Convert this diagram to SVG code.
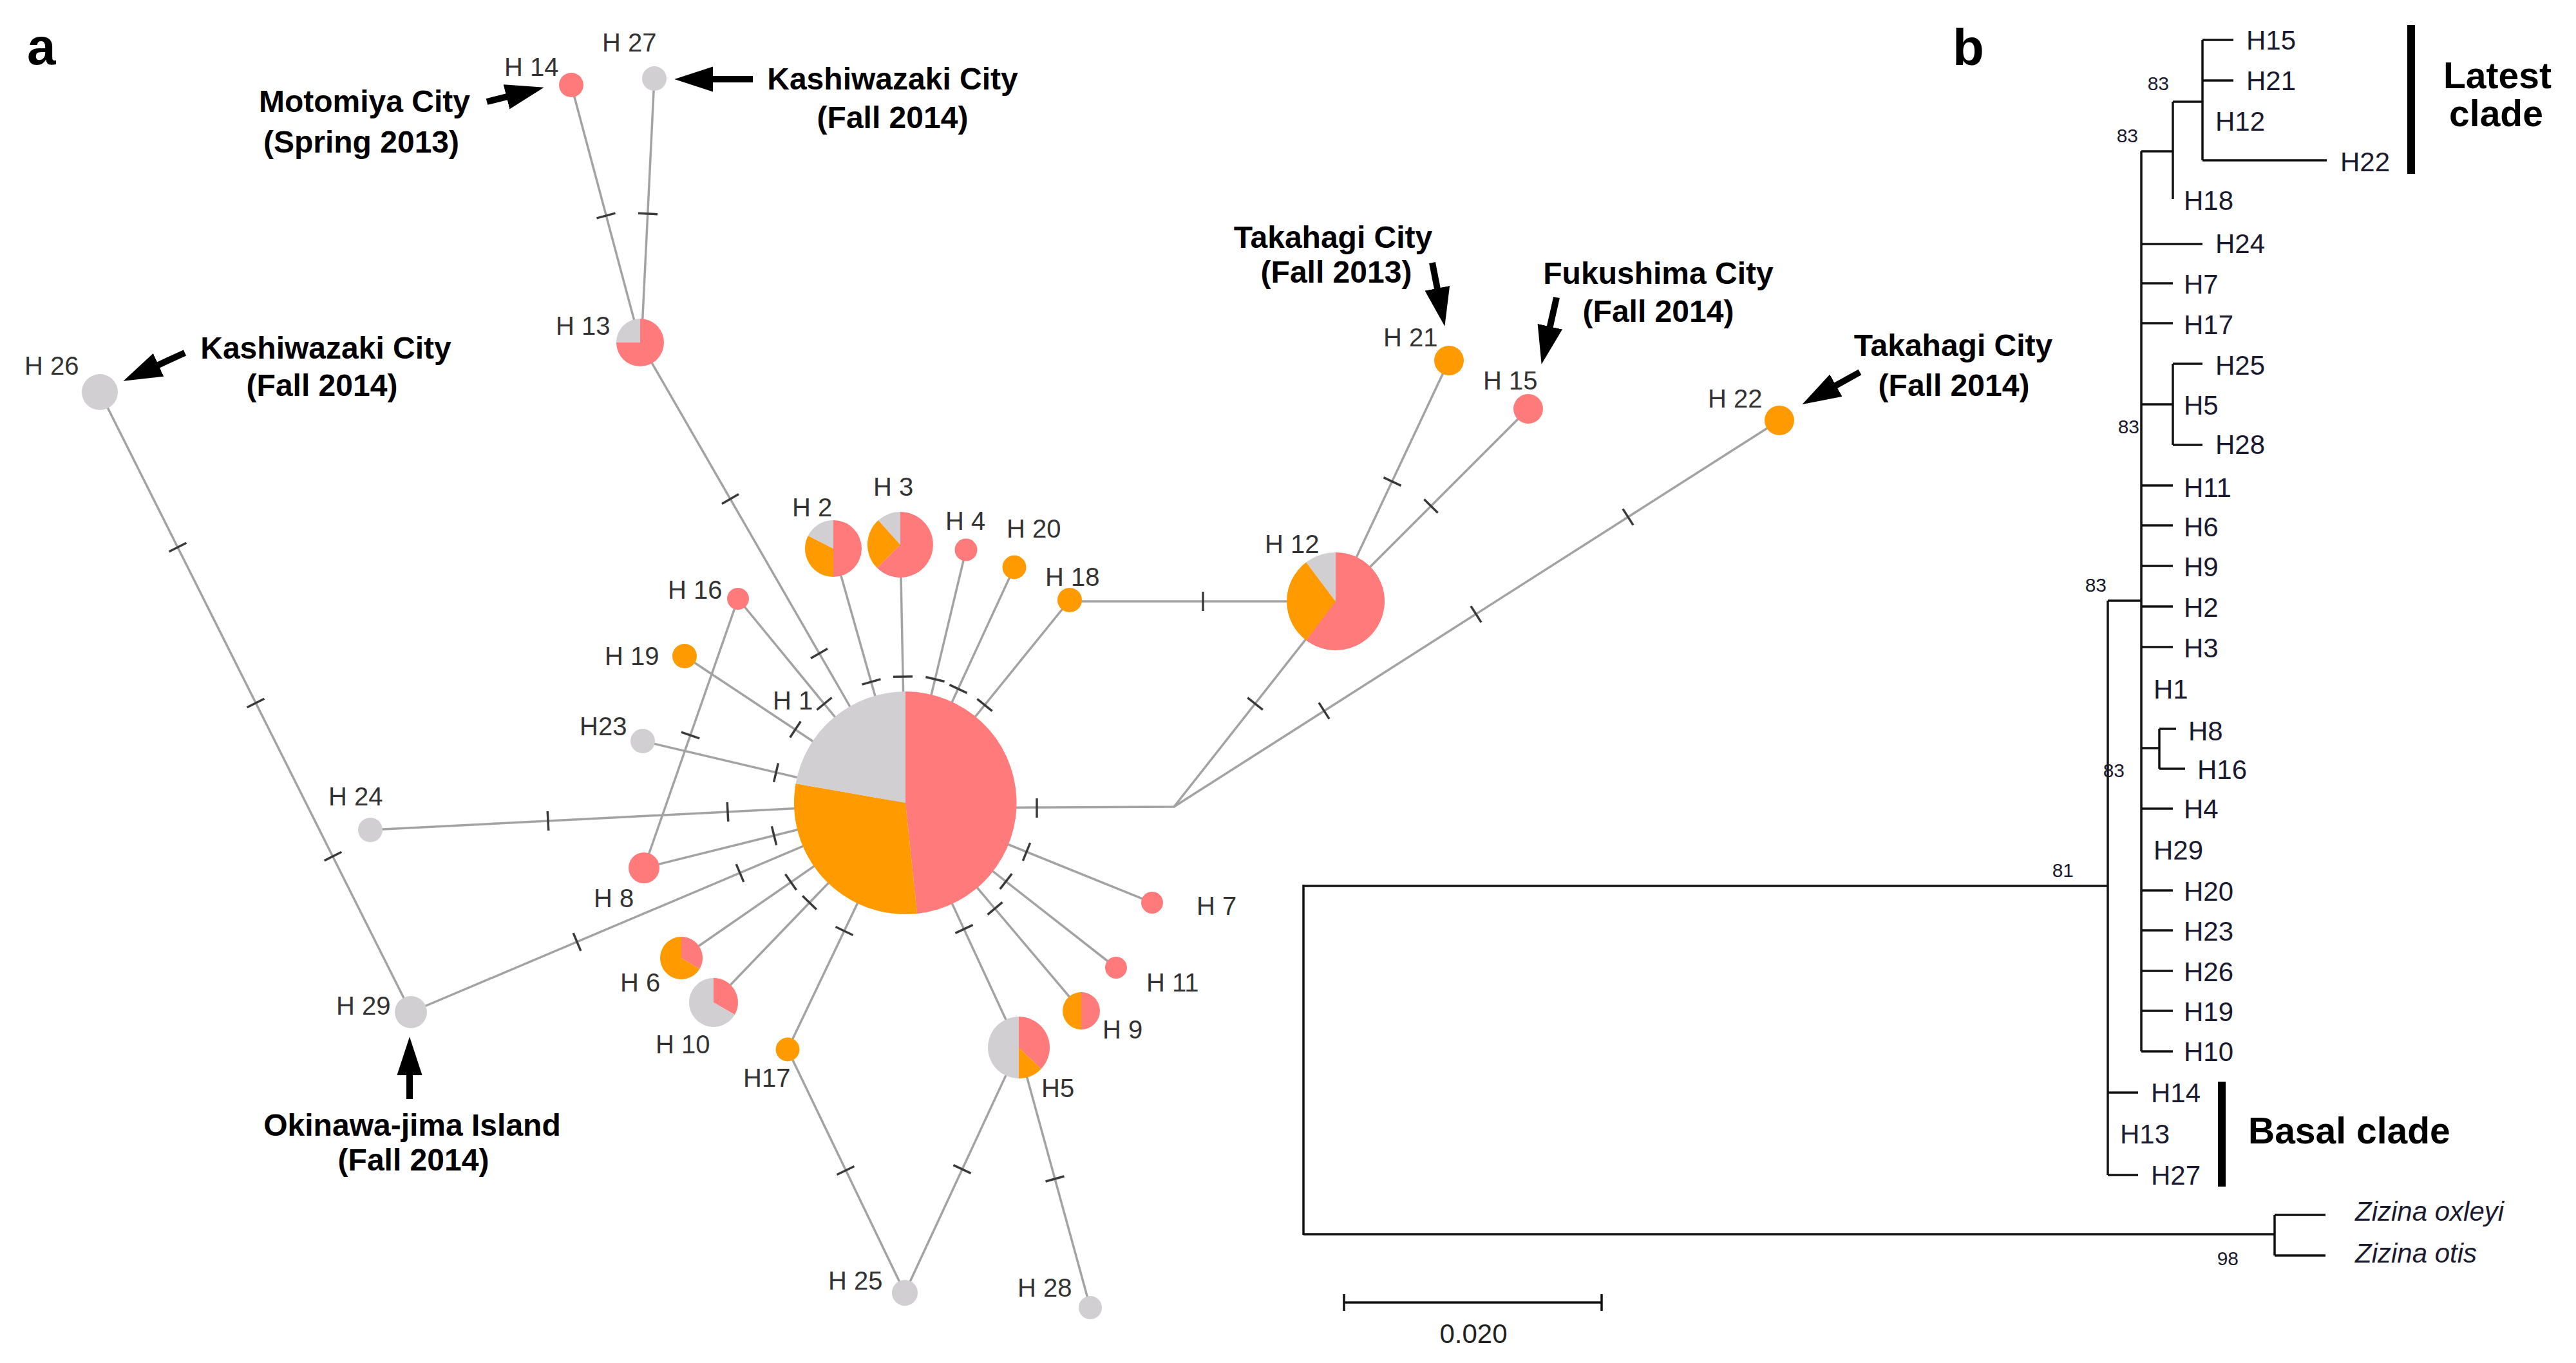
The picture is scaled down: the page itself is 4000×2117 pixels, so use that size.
<svg xmlns="http://www.w3.org/2000/svg" xmlns:xlink="http://www.w3.org/1999/xlink" width="4000" height="2117" viewBox="0 0 4000 2117">
<style>
.e{stroke:#a3a3a3;stroke-width:3.5;fill:none}
.tk{stroke:#3a3a3a;stroke-width:3.5}
.r{fill:#ff7a7a}.o{fill:#ff9a00}.g{fill:#d1cfd1}
.lb{font-family:"Liberation Sans",Arial,sans-serif;font-size:40px;fill:#333}
.co{font-family:"Liberation Sans",Arial,sans-serif;font-size:48px;font-weight:bold;fill:#000;text-anchor:middle}
.ar{stroke:#000;stroke-width:10;fill:none;marker-end:url(#ah)}
.pl{font-family:"Liberation Sans",Arial,sans-serif;font-size:80px;font-weight:bold;fill:#000}
.br{stroke:#111;stroke-width:3.5;fill:none}
.tl{font-family:"Liberation Sans",Arial,sans-serif;font-size:42px;fill:#1a1a30}
.bs{font-family:"Liberation Sans",Arial,sans-serif;font-size:30px;fill:#1a1a30}
.cl{font-family:"Liberation Sans",Arial,sans-serif;font-size:57px;font-weight:bold;fill:#000}
</style>
<defs>
<line id="tk" class="tk" x1="0" y1="-15" x2="0" y2="15"/>
<marker id="ah" markerUnits="userSpaceOnUse" markerWidth="60" markerHeight="40" viewBox="0 0 58 38" refX="8" refY="19" orient="auto">
<path d="M0,0 L58,19 L0,38 Z" fill="#000"/>
</marker>
</defs>
<rect width="4000" height="2117" fill="#fff"/>
<text class="pl" x="42" y="100">a</text>
<text class="pl" x="3032" y="101">b</text>

<g id="connectors">
<line class="e" x1="887" y1="132" x2="994" y2="532"/>
<line class="e" x1="1016" y1="122" x2="996" y2="532"/>
<line class="e" x1="994" y1="532" x2="1406" y2="1247"/>
<line class="e" x1="155" y1="609" x2="638" y2="1572"/>
<line class="e" x1="575" y1="1289" x2="1406" y2="1247"/>
<line class="e" x1="638" y1="1572" x2="1406" y2="1247"/>
<line class="e" x1="1000" y1="1348" x2="1406" y2="1247"/>
<line class="e" x1="1146" y1="930" x2="1406" y2="1247"/>
<line class="e" x1="1146" y1="930" x2="1000" y2="1348"/>
<line class="e" x1="1063" y1="1019" x2="1406" y2="1247"/>
<line class="e" x1="998" y1="1151" x2="1406" y2="1247"/>
<line class="e" x1="1294" y1="852" x2="1406" y2="1247"/>
<line class="e" x1="1398" y1="846" x2="1406" y2="1247"/>
<line class="e" x1="1500" y1="854" x2="1406" y2="1247"/>
<line class="e" x1="1575" y1="881" x2="1406" y2="1247"/>
<line class="e" x1="1661" y1="932" x2="1406" y2="1247"/>
<line class="e" x1="1661" y1="934" x2="2074" y2="934"/>
<line class="e" x1="1058" y1="1488" x2="1406" y2="1247"/>
<line class="e" x1="1108" y1="1557" x2="1406" y2="1247"/>
<line class="e" x1="1223" y1="1630" x2="1406" y2="1247"/>
<line class="e" x1="1582" y1="1627" x2="1406" y2="1247"/>
<line class="e" x1="1679" y1="1570" x2="1406" y2="1247"/>
<line class="e" x1="1733" y1="1503" x2="1406" y2="1247"/>
<line class="e" x1="1789" y1="1402" x2="1406" y2="1247"/>
<polyline class="e" points="1406,1255 1823,1253 2074,934"/>
<line class="e" x1="1823" y1="1253" x2="2763" y2="653"/>
<line class="e" x1="2074" y1="934" x2="2250" y2="560"/>
<line class="e" x1="2074" y1="934" x2="2373" y2="635"/>
<line class="e" x1="1223" y1="1630" x2="1405" y2="2008"/>
<line class="e" x1="1582" y1="1627" x2="1405" y2="2008"/>
<line class="e" x1="1582" y1="1627" x2="1693" y2="2031"/>
<use href="#tk" transform="translate(941,335) rotate(75)"/>
<use href="#tk" transform="translate(1006,332) rotate(92.8)"/>
<use href="#tk" transform="translate(1134,775) rotate(60)"/>
<use href="#tk" transform="translate(1272,1015) rotate(60)"/>
<use href="#tk" transform="translate(276,850) rotate(63.4)"/>
<use href="#tk" transform="translate(397,1092) rotate(63.4)"/>
<use href="#tk" transform="translate(517,1330) rotate(63.4)"/>
<use href="#tk" transform="translate(851,1275) rotate(-2.9)"/>
<use href="#tk" transform="translate(1130,1261) rotate(-2.9)"/>
<use href="#tk" transform="translate(896,1463) rotate(-22.9)"/>
<use href="#tk" transform="translate(1149,1356) rotate(-22.9)"/>
<use href="#tk" transform="translate(1202,1298) rotate(-14)"/>
<use href="#tk" transform="translate(1280,1093) rotate(50.6)"/>
<use href="#tk" transform="translate(1072,1142) rotate(109.3)"/>
<use href="#tk" transform="translate(1235,1133) rotate(33.6)"/>
<use href="#tk" transform="translate(1205,1200) rotate(13.2)"/>
<use href="#tk" transform="translate(1353,1059) rotate(74.2)"/>
<use href="#tk" transform="translate(1402,1051) rotate(88.9)"/>
<use href="#tk" transform="translate(1452,1055) rotate(103.5)"/>
<use href="#tk" transform="translate(1488,1070) rotate(114.8)"/>
<use href="#tk" transform="translate(1529,1095) rotate(129)"/>
<use href="#tk" transform="translate(1868,934)"/>
<use href="#tk" transform="translate(1228,1370) rotate(-34.7)"/>
<use href="#tk" transform="translate(1257,1402) rotate(-46.1)"/>
<use href="#tk" transform="translate(1311,1446) rotate(-64.5)"/>
<use href="#tk" transform="translate(1497,1443) rotate(65.2)"/>
<use href="#tk" transform="translate(1545,1411) rotate(49.8)"/>
<use href="#tk" transform="translate(1562,1369) rotate(38.1)"/>
<use href="#tk" transform="translate(1594,1323) rotate(22)"/>
<use href="#tk" transform="translate(1610,1255)"/>
<use href="#tk" transform="translate(1949,1093) rotate(-51.8)"/>
<use href="#tk" transform="translate(2056,1104) rotate(-32.5)"/>
<use href="#tk" transform="translate(2292,954) rotate(-32.5)"/>
<use href="#tk" transform="translate(2528,803) rotate(-32.5)"/>
<use href="#tk" transform="translate(2162,748) rotate(-64.8)"/>
<use href="#tk" transform="translate(2222,786) rotate(-45)"/>
<use href="#tk" transform="translate(1313,1818) rotate(64.3)"/>
<use href="#tk" transform="translate(1494,1816) rotate(114.9)"/>
<use href="#tk" transform="translate(1638,1831) rotate(74.6)"/>
</g>

<g id="H1"><path class="r" d="M1406,1247 L1406,1074 A173,173 0 0 1 1424.1,1419 Z"/><path class="o" d="M1406,1247 L1424.1,1419 A173,173 0 0 1 1235.6,1217 Z"/><path class="g" d="M1406,1247 L1235.6,1217 A173,173 0 0 1 1406,1074 Z"/><text class="lb" x="1200" y="1102">H 1</text></g>
<g id="H2"><path class="r" d="M1294,852 L1294,808 A44,44 0 0 1 1294,896 Z"/><path class="o" d="M1294,852 L1294,896 A44,44 0 0 1 1254.8,832 Z"/><path class="g" d="M1294,852 L1254.8,832 A44,44 0 0 1 1294,808 Z"/><text class="lb" x="1230" y="802">H 2</text></g>
<g id="H3"><path class="r" d="M1398,846 L1398,795 A51,51 0 1 1 1361.9,882.1 Z"/><path class="o" d="M1398,846 L1361.9,882.1 A51,51 0 0 1 1363.9,808.1 Z"/><path class="g" d="M1398,846 L1363.9,808.1 A51,51 0 0 1 1398,795 Z"/><text class="lb" x="1356" y="770">H 3</text></g>
<g id="H4"><circle class="r" cx="1500" cy="854" r="17.5"/><text class="lb" x="1468" y="823">H 4</text></g>
<g id="H5"><path class="r" d="M1582,1627 L1582,1579 A48,48 0 0 1 1616.5,1660.4 Z"/><path class="o" d="M1582,1627 L1616.5,1660.4 A48,48 0 0 1 1582,1675 Z"/><path class="g" d="M1582,1627 L1582,1675 A48,48 0 0 1 1582,1579 Z"/><text class="lb" x="1617" y="1704">H5</text></g>
<g id="H6"><path class="r" d="M1058,1488 L1058,1455 A33,33 0 0 1 1086.3,1505 Z"/><path class="o" d="M1058,1488 L1086.3,1505 A33,33 0 1 1 1058,1455 Z"/><text class="lb" x="963" y="1540">H 6</text></g>
<g id="H7"><circle class="r" cx="1789" cy="1402" r="17"/><text class="lb" x="1858" y="1421">H 7</text></g>
<g id="H8"><circle class="r" cx="1000" cy="1348" r="24"/><text class="lb" x="922" y="1409">H 8</text></g>
<g id="H9"><path class="r" d="M1679,1570 L1679,1541 A29,29 0 0 1 1679,1599 Z"/><path class="o" d="M1679,1570 L1679,1599 A29,29 0 0 1 1679,1541 Z"/><text class="lb" x="1712" y="1613">H 9</text></g>
<g id="H10"><path class="r" d="M1108,1557 L1108,1519 A38,38 0 0 1 1140.9,1576 Z"/><path class="g" d="M1108,1557 L1140.9,1576 A38,38 0 1 1 1108,1519 Z"/><text class="lb" x="1018" y="1636">H 10</text></g>
<g id="H11"><circle class="r" cx="1733" cy="1503" r="17"/><text class="lb" x="1780" y="1540">H 11</text></g>
<g id="H12"><path class="r" d="M2074,934 L2074,858 A76,76 0 1 1 2028.3,994.7 Z"/><path class="o" d="M2074,934 L2028.3,994.7 A76,76 0 0 1 2028.3,873.3 Z"/><path class="g" d="M2074,934 L2028.3,873.3 A76,76 0 0 1 2074,858 Z"/><text class="lb" x="1964" y="859">H 12</text></g>
<g id="H13"><path class="r" d="M994,532 L994,495 A37,37 0 1 1 957,532 Z"/><path class="g" d="M994,532 L957,532 A37,37 0 0 1 994,495 Z"/><text class="lb" x="863" y="520">H 13</text></g>
<g id="H14"><circle class="r" cx="887" cy="132" r="19"/><text class="lb" x="783" y="118">H 14</text></g>
<g id="H15"><circle class="r" cx="2373" cy="635" r="23"/><text class="lb" x="2303" y="605">H 15</text></g>
<g id="H16"><circle class="r" cx="1146" cy="930" r="17"/><text class="lb" x="1037" y="930">H 16</text></g>
<g id="H17"><circle class="o" cx="1223" cy="1630" r="18.5"/><text class="lb" x="1154" y="1688">H17</text></g>
<g id="H18"><circle class="o" cx="1661" cy="932" r="19"/><text class="lb" x="1623" y="910">H 18</text></g>
<g id="H19"><circle class="o" cx="1063" cy="1019" r="19"/><text class="lb" x="939" y="1033">H 19</text></g>
<g id="H20"><circle class="o" cx="1575" cy="881" r="18.5"/><text class="lb" x="1563" y="835">H 20</text></g>
<g id="H21"><circle class="o" cx="2250" cy="560" r="23"/><text class="lb" x="2148" y="538">H 21</text></g>
<g id="H22"><circle class="o" cx="2763" cy="653" r="23"/><text class="lb" x="2652" y="633">H 22</text></g>
<g id="H23"><circle class="g" cx="998" cy="1151" r="19"/><text class="lb" x="900" y="1142">H23</text></g>
<g id="H24"><circle class="g" cx="575" cy="1289" r="19"/><text class="lb" x="510" y="1251">H 24</text></g>
<g id="H25"><circle class="g" cx="1405" cy="2008" r="20"/><text class="lb" x="1286" y="2003">H 25</text></g>
<g id="H26"><circle class="g" cx="155" cy="609" r="28"/><text class="lb" x="38" y="582">H 26</text></g>
<g id="H27"><circle class="g" cx="1016" cy="122" r="19"/><text class="lb" x="935" y="80">H 27</text></g>
<g id="H28"><circle class="g" cx="1693" cy="2031" r="18"/><text class="lb" x="1580" y="2014">H 28</text></g>
<g id="H29"><circle class="g" cx="638" cy="1572" r="25"/><text class="lb" x="522" y="1576">H 29</text></g>

<g id="callouts">
<line class="ar" x1="756" y1="158" x2="794.5" y2="148.3"/>
<text class="co" x="566" y="174">Motomiya City</text><text class="co" x="561" y="237">(Spring 2013)</text>
<line class="ar" x1="1169" y1="123" x2="1099" y2="123"/>
<text class="co" x="1386" y="139">Kashiwazaki City</text><text class="co" x="1386" y="199">(Fall 2014)</text>
<line class="ar" x1="287" y1="548" x2="238.5" y2="570.2"/>
<text class="co" x="506" y="557">Kashiwazaki City</text><text class="co" x="500" y="615">(Fall 2014)</text>
<line class="ar" x1="2224" y1="408" x2="2233.4" y2="455.9"/>
<text class="co" x="2070" y="385">Takahagi City</text><text class="co" x="2075" y="439">(Fall 2013)</text>
<line class="ar" x1="2417" y1="462" x2="2405" y2="515.3"/>
<text class="co" x="2575" y="441">Fukushima City</text><text class="co" x="2575" y="500">(Fall 2014)</text>
<line class="ar" x1="2888" y1="578" x2="2843.7" y2="602.7"/>
<text class="co" x="3033" y="553">Takahagi City</text><text class="co" x="3034" y="615">(Fall 2014)</text>
<line class="ar" x1="636" y1="1707" x2="636" y2="1662"/>
<text class="co" x="640" y="1764">Okinawa-jima Island</text><text class="co" x="642" y="1818">(Fall 2014)</text>
</g>

<g id="tree">
<path class="br" d="M2024,1376 L3273,1376 M2024,1374 L2024,1918 M2024,1917 L3532,1917 M3532,1887 L3532,1950 M3532,1887 L3611,1887 M3532,1950 L3611,1950"/>
<path class="br" d="M3273,933 L3273,1825 M3273,933 L3325,933 M3273,1697 L3320,1697 M3273,1825 L3320,1825"/>
<path class="br" d="M3325,235 L3325,1633 M3325,235 L3374,235 M3374,158 L3374,309 M3374,158 L3420,158 M3420,62 L3420,249 M3420,62 L3468,62 M3420,125 L3468,125 M3420,249 L3613,249"/>
<path class="br" d="M3325,379 L3420,379 M3325,440 L3374,440 M3325,502 L3374,502 M3325,628 L3374,628 M3374,565 L3374,691 M3374,565 L3420,565 M3374,691 L3420,691 M3325,754 L3374,754 M3325,816 L3374,816 M3325,879 L3374,879 M3325,942 L3374,942 M3325,1005 L3374,1005"/>
<path class="br" d="M3325,1162 L3353,1162 M3353,1132 L3353,1194 M3353,1132 L3379,1132 M3353,1194 L3393,1194 M3325,1256 L3374,1256 M3325,1383 L3374,1383 M3325,1445 L3374,1445 M3325,1508 L3374,1508 M3325,1570 L3374,1570 M3325,1633 L3374,1633"/>
<text class="bs" x="3220" y="1362" text-anchor="end">81</text>
<text class="bs" x="3476" y="1965" text-anchor="end">98</text>
<text class="bs" x="3271" y="919" text-anchor="end">83</text>
<text class="bs" x="3299" y="1207" text-anchor="end">83</text>
<text class="bs" x="3320" y="221" text-anchor="end">83</text>
<text class="bs" x="3368" y="140" text-anchor="end">83</text>
<text class="bs" x="3322" y="673" text-anchor="end">83</text>
<text class="tl" x="3488" y="77">H15</text>
<text class="tl" x="3488" y="140">H21</text>
<text class="tl" x="3440" y="203">H12</text>
<text class="tl" x="3634" y="266">H22</text>
<text class="tl" x="3391" y="326">H18</text>
<text class="tl" x="3440" y="393">H24</text>
<text class="tl" x="3391" y="456">H7</text>
<text class="tl" x="3391" y="519">H17</text>
<text class="tl" x="3440" y="582">H25</text>
<text class="tl" x="3391" y="644">H5</text>
<text class="tl" x="3440" y="705">H28</text>
<text class="tl" x="3391" y="772">H11</text>
<text class="tl" x="3391" y="833">H6</text>
<text class="tl" x="3391" y="895">H9</text>
<text class="tl" x="3391" y="958">H2</text>
<text class="tl" x="3391" y="1021">H3</text>
<text class="tl" x="3344" y="1085">H1</text>
<text class="tl" x="3398" y="1150">H8</text>
<text class="tl" x="3412" y="1210">H16</text>
<text class="tl" x="3391" y="1271">H4</text>
<text class="tl" x="3344" y="1335">H29</text>
<text class="tl" x="3391" y="1399">H20</text>
<text class="tl" x="3391" y="1461">H23</text>
<text class="tl" x="3391" y="1524">H26</text>
<text class="tl" x="3391" y="1586">H19</text>
<text class="tl" x="3391" y="1648">H10</text>
<text class="tl" x="3340" y="1712">H14</text>
<text class="tl" x="3292" y="1776">H13</text>
<text class="tl" x="3340" y="1840">H27</text>
<text class="tl" x="3657" y="1896" font-style="italic">Zizina oxleyi</text>
<text class="tl" x="3657" y="1961" font-style="italic">Zizina otis</text>
<rect x="3738" y="39" width="12" height="231" fill="#000"/>
<text class="cl" x="3878" y="137" text-anchor="middle">Latest</text>
<text class="cl" x="3876" y="196" text-anchor="middle">clade</text>
<rect x="3444" y="1680" width="12" height="163" fill="#000"/>
<text class="cl" x="3491" y="1776">Basal clade</text>
<path class="br" d="M2087,2023 L2487,2023 M2087,2010 L2087,2036 M2487,2010 L2487,2036"/>
<text x="2288" y="2086" text-anchor="middle" font-family="Liberation Sans, Arial, sans-serif" font-size="42" fill="#222">0.020</text>
</g>
</svg>
